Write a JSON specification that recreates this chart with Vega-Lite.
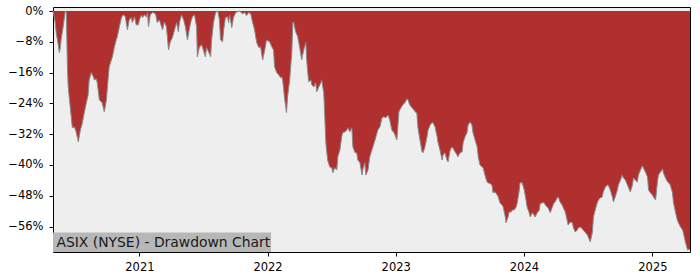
{
  "$schema": "https://vega.github.io/schema/vega-lite/v6.json",
  "width": 637,
  "height": 245,
  "autosize": {"type": "none"},
  "padding": {"left": 53, "top": 7, "right": 10, "bottom": 28},
  "background": "white",
  "config": {
    "font": "DejaVu Sans",
    "view": {"stroke": "black", "strokeWidth": 1, "fill": "#eeeeee"},
    "axis": {
      "title": null,
      "grid": false,
      "domain": false,
      "ticks": true,
      "tickColor": "black",
      "tickSize": 4,
      "labelFontSize": 11.5,
      "labelColor": "black",
      "labelFont": "DejaVu Sans",
      "labelOverlap": false,
      "labelFlush": false
    },
    "axisX": {"labelPadding": 5},
    "axisY": {"labelPadding": 6}
  },
  "datasets": {
    "dd": [
      {"date":"2020-04-30","dd":0},
      {"date":"2020-05-06","dd":-0.028},
      {"date":"2020-05-09","dd":-0.056},
      {"date":"2020-05-15","dd":-0.088},
      {"date":"2020-05-18","dd":-0.108},
      {"date":"2020-05-21","dd":-0.095},
      {"date":"2020-05-23","dd":-0.075},
      {"date":"2020-05-29","dd":-0.041},
      {"date":"2020-06-04","dd":0},
      {"date":"2020-06-07","dd":-0.004},
      {"date":"2020-06-10","dd":-0.145},
      {"date":"2020-06-12","dd":-0.192},
      {"date":"2020-06-15","dd":-0.223},
      {"date":"2020-06-21","dd":-0.275},
      {"date":"2020-06-24","dd":-0.303},
      {"date":"2020-06-30","dd":-0.301},
      {"date":"2020-07-05","dd":-0.314},
      {"date":"2020-07-11","dd":-0.340},
      {"date":"2020-07-17","dd":-0.309},
      {"date":"2020-07-22","dd":-0.293},
      {"date":"2020-07-28","dd":-0.264},
      {"date":"2020-08-03","dd":-0.238},
      {"date":"2020-08-08","dd":-0.218},
      {"date":"2020-08-11","dd":-0.179},
      {"date":"2020-08-17","dd":-0.160},
      {"date":"2020-08-23","dd":-0.171},
      {"date":"2020-08-26","dd":-0.179},
      {"date":"2020-08-31","dd":-0.176},
      {"date":"2020-09-03","dd":-0.186},
      {"date":"2020-09-09","dd":-0.231},
      {"date":"2020-09-17","dd":-0.238},
      {"date":"2020-09-23","dd":-0.262},
      {"date":"2020-09-29","dd":-0.231},
      {"date":"2020-10-02","dd":-0.197},
      {"date":"2020-10-07","dd":-0.145},
      {"date":"2020-10-16","dd":-0.119},
      {"date":"2020-10-22","dd":-0.093},
      {"date":"2020-10-27","dd":-0.075},
      {"date":"2020-10-30","dd":-0.067},
      {"date":"2020-11-05","dd":-0.041},
      {"date":"2020-11-11","dd":-0.017},
      {"date":"2020-11-16","dd":-0.010},
      {"date":"2020-11-22","dd":-0.015},
      {"date":"2020-11-28","dd":-0.049},
      {"date":"2020-12-03","dd":-0.023},
      {"date":"2020-12-09","dd":-0.017},
      {"date":"2020-12-12","dd":-0.030},
      {"date":"2020-12-18","dd":-0.015},
      {"date":"2020-12-23","dd":-0.036},
      {"date":"2020-12-29","dd":-0.036},
      {"date":"2021-01-01","dd":-0.023},
      {"date":"2021-01-07","dd":-0.010},
      {"date":"2021-01-10","dd":-0.017},
      {"date":"2021-01-15","dd":-0.010},
      {"date":"2021-01-21","dd":-0.015},
      {"date":"2021-01-24","dd":-0.004},
      {"date":"2021-01-27","dd":-0.041},
      {"date":"2021-02-01","dd":-0.010},
      {"date":"2021-02-07","dd":-0.004},
      {"date":"2021-02-16","dd":-0.007},
      {"date":"2021-02-21","dd":-0.030},
      {"date":"2021-02-27","dd":-0.023},
      {"date":"2021-03-08","dd":-0.049},
      {"date":"2021-03-13","dd":-0.028},
      {"date":"2021-03-19","dd":-0.041},
      {"date":"2021-03-25","dd":-0.101},
      {"date":"2021-03-30","dd":-0.080},
      {"date":"2021-04-05","dd":-0.069},
      {"date":"2021-04-11","dd":-0.049},
      {"date":"2021-04-17","dd":-0.030},
      {"date":"2021-04-22","dd":-0.054},
      {"date":"2021-04-25","dd":-0.030},
      {"date":"2021-05-01","dd":-0.010},
      {"date":"2021-05-07","dd":-0.023},
      {"date":"2021-05-12","dd":-0.041},
      {"date":"2021-05-18","dd":-0.075},
      {"date":"2021-05-24","dd":-0.043},
      {"date":"2021-05-29","dd":-0.023},
      {"date":"2021-06-01","dd":-0.015},
      {"date":"2021-06-07","dd":-0.010},
      {"date":"2021-06-13","dd":-0.041},
      {"date":"2021-06-15","dd":-0.119},
      {"date":"2021-06-21","dd":-0.093},
      {"date":"2021-06-27","dd":-0.088},
      {"date":"2021-06-30","dd":-0.095},
      {"date":"2021-07-08","dd":-0.119},
      {"date":"2021-07-11","dd":-0.095},
      {"date":"2021-07-17","dd":-0.106},
      {"date":"2021-07-23","dd":-0.119},
      {"date":"2021-07-25","dd":-0.082},
      {"date":"2021-07-31","dd":-0.030},
      {"date":"2021-08-06","dd":-0.004},
      {"date":"2021-08-12","dd":0},
      {"date":"2021-08-17","dd":-0.023},
      {"date":"2021-08-20","dd":-0.075},
      {"date":"2021-08-26","dd":-0.080},
      {"date":"2021-08-29","dd":-0.049},
      {"date":"2021-09-03","dd":-0.017},
      {"date":"2021-09-09","dd":-0.015},
      {"date":"2021-09-12","dd":-0.030},
      {"date":"2021-09-15","dd":-0.010},
      {"date":"2021-09-21","dd":-0.043},
      {"date":"2021-09-26","dd":-0.017},
      {"date":"2021-10-02","dd":-0.004},
      {"date":"2021-10-13","dd":0},
      {"date":"2021-10-22","dd":-0.007},
      {"date":"2021-10-28","dd":-0.004},
      {"date":"2021-11-02","dd":-0.012},
      {"date":"2021-11-08","dd":-0.004},
      {"date":"2021-11-14","dd":-0.007},
      {"date":"2021-11-19","dd":-0.028},
      {"date":"2021-11-25","dd":-0.049},
      {"date":"2021-12-01","dd":-0.082},
      {"date":"2021-12-07","dd":-0.095},
      {"date":"2021-12-12","dd":-0.093},
      {"date":"2021-12-18","dd":-0.127},
      {"date":"2021-12-24","dd":-0.101},
      {"date":"2021-12-29","dd":-0.075},
      {"date":"2022-01-07","dd":-0.080},
      {"date":"2022-01-13","dd":-0.093},
      {"date":"2022-01-18","dd":-0.101},
      {"date":"2022-01-21","dd":-0.145},
      {"date":"2022-01-27","dd":-0.160},
      {"date":"2022-02-02","dd":-0.166},
      {"date":"2022-02-07","dd":-0.173},
      {"date":"2022-02-10","dd":-0.171},
      {"date":"2022-02-13","dd":-0.179},
      {"date":"2022-02-19","dd":-0.231},
      {"date":"2022-02-24","dd":-0.264},
      {"date":"2022-02-27","dd":-0.223},
      {"date":"2022-03-05","dd":-0.179},
      {"date":"2022-03-11","dd":-0.108},
      {"date":"2022-03-14","dd":-0.030},
      {"date":"2022-03-16","dd":-0.028},
      {"date":"2022-03-22","dd":-0.054},
      {"date":"2022-03-28","dd":-0.067},
      {"date":"2022-03-31","dd":-0.082},
      {"date":"2022-04-05","dd":-0.108},
      {"date":"2022-04-08","dd":-0.127},
      {"date":"2022-04-14","dd":-0.101},
      {"date":"2022-04-20","dd":-0.082},
      {"date":"2022-04-23","dd":-0.134},
      {"date":"2022-04-28","dd":-0.184},
      {"date":"2022-05-04","dd":-0.179},
      {"date":"2022-05-07","dd":-0.192},
      {"date":"2022-05-13","dd":-0.197},
      {"date":"2022-05-18","dd":-0.186},
      {"date":"2022-05-21","dd":-0.210},
      {"date":"2022-05-27","dd":-0.197},
      {"date":"2022-06-02","dd":-0.186},
      {"date":"2022-06-04","dd":-0.179},
      {"date":"2022-06-10","dd":-0.212},
      {"date":"2022-06-13","dd":-0.275},
      {"date":"2022-06-16","dd":-0.342},
      {"date":"2022-06-21","dd":-0.387},
      {"date":"2022-06-27","dd":-0.405},
      {"date":"2022-07-03","dd":-0.407},
      {"date":"2022-07-06","dd":-0.420},
      {"date":"2022-07-11","dd":-0.407},
      {"date":"2022-07-17","dd":-0.413},
      {"date":"2022-07-20","dd":-0.379},
      {"date":"2022-07-26","dd":-0.361},
      {"date":"2022-07-31","dd":-0.327},
      {"date":"2022-08-03","dd":-0.316},
      {"date":"2022-08-09","dd":-0.314},
      {"date":"2022-08-15","dd":-0.309},
      {"date":"2022-08-18","dd":-0.303},
      {"date":"2022-08-23","dd":-0.314},
      {"date":"2022-08-29","dd":-0.303},
      {"date":"2022-09-01","dd":-0.353},
      {"date":"2022-09-07","dd":-0.368},
      {"date":"2022-09-12","dd":-0.368},
      {"date":"2022-09-15","dd":-0.387},
      {"date":"2022-09-21","dd":-0.394},
      {"date":"2022-09-27","dd":-0.426},
      {"date":"2022-09-29","dd":-0.413},
      {"date":"2022-10-05","dd":-0.394},
      {"date":"2022-10-08","dd":-0.426},
      {"date":"2022-10-14","dd":-0.413},
      {"date":"2022-10-19","dd":-0.379},
      {"date":"2022-10-25","dd":-0.361},
      {"date":"2022-10-28","dd":-0.353},
      {"date":"2022-11-03","dd":-0.335},
      {"date":"2022-11-11","dd":-0.309},
      {"date":"2022-11-17","dd":-0.301},
      {"date":"2022-11-23","dd":-0.277},
      {"date":"2022-11-28","dd":-0.275},
      {"date":"2022-12-04","dd":-0.277},
      {"date":"2022-12-10","dd":-0.270},
      {"date":"2022-12-15","dd":-0.283},
      {"date":"2022-12-21","dd":-0.309},
      {"date":"2022-12-27","dd":-0.316},
      {"date":"2022-12-30","dd":-0.322},
      {"date":"2023-01-04","dd":-0.335},
      {"date":"2023-01-07","dd":-0.301},
      {"date":"2023-01-10","dd":-0.262},
      {"date":"2023-01-16","dd":-0.251},
      {"date":"2023-01-21","dd":-0.244},
      {"date":"2023-01-27","dd":-0.238},
      {"date":"2023-02-02","dd":-0.228},
      {"date":"2023-02-05","dd":-0.231},
      {"date":"2023-02-10","dd":-0.244},
      {"date":"2023-02-16","dd":-0.251},
      {"date":"2023-02-22","dd":-0.257},
      {"date":"2023-02-25","dd":-0.262},
      {"date":"2023-03-02","dd":-0.264},
      {"date":"2023-03-05","dd":-0.301},
      {"date":"2023-03-11","dd":-0.335},
      {"date":"2023-03-17","dd":-0.366},
      {"date":"2023-03-20","dd":-0.368},
      {"date":"2023-03-25","dd":-0.353},
      {"date":"2023-03-31","dd":-0.327},
      {"date":"2023-04-03","dd":-0.309},
      {"date":"2023-04-09","dd":-0.296},
      {"date":"2023-04-14","dd":-0.290},
      {"date":"2023-04-17","dd":-0.290},
      {"date":"2023-04-23","dd":-0.301},
      {"date":"2023-04-29","dd":-0.327},
      {"date":"2023-05-01","dd":-0.340},
      {"date":"2023-05-07","dd":-0.361},
      {"date":"2023-05-13","dd":-0.387},
      {"date":"2023-05-16","dd":-0.374},
      {"date":"2023-05-21","dd":-0.368},
      {"date":"2023-05-27","dd":-0.387},
      {"date":"2023-05-30","dd":-0.392},
      {"date":"2023-06-05","dd":-0.361},
      {"date":"2023-06-10","dd":-0.353},
      {"date":"2023-06-13","dd":-0.356},
      {"date":"2023-06-19","dd":-0.366},
      {"date":"2023-06-25","dd":-0.374},
      {"date":"2023-06-27","dd":-0.379},
      {"date":"2023-07-03","dd":-0.368},
      {"date":"2023-07-09","dd":-0.366},
      {"date":"2023-07-12","dd":-0.342},
      {"date":"2023-07-17","dd":-0.327},
      {"date":"2023-07-23","dd":-0.316},
      {"date":"2023-07-26","dd":-0.296},
      {"date":"2023-08-01","dd":-0.288},
      {"date":"2023-08-06","dd":-0.296},
      {"date":"2023-08-09","dd":-0.316},
      {"date":"2023-08-15","dd":-0.335},
      {"date":"2023-08-21","dd":-0.353},
      {"date":"2023-08-24","dd":-0.379},
      {"date":"2023-08-29","dd":-0.400},
      {"date":"2023-09-04","dd":-0.405},
      {"date":"2023-09-07","dd":-0.407},
      {"date":"2023-09-12","dd":-0.426},
      {"date":"2023-09-18","dd":-0.444},
      {"date":"2023-09-21","dd":-0.446},
      {"date":"2023-09-27","dd":-0.449},
      {"date":"2023-10-02","dd":-0.452},
      {"date":"2023-10-05","dd":-0.472},
      {"date":"2023-10-11","dd":-0.470},
      {"date":"2023-10-17","dd":-0.478},
      {"date":"2023-10-20","dd":-0.483},
      {"date":"2023-10-25","dd":-0.499},
      {"date":"2023-10-31","dd":-0.504},
      {"date":"2023-11-03","dd":-0.509},
      {"date":"2023-11-09","dd":-0.535},
      {"date":"2023-11-11","dd":-0.550},
      {"date":"2023-11-17","dd":-0.535},
      {"date":"2023-11-20","dd":-0.522},
      {"date":"2023-11-26","dd":-0.522},
      {"date":"2023-11-28","dd":-0.517},
      {"date":"2023-12-04","dd":-0.517},
      {"date":"2023-12-10","dd":-0.509},
      {"date":"2023-12-13","dd":-0.498},
      {"date":"2023-12-18","dd":-0.470},
      {"date":"2023-12-21","dd":-0.446},
      {"date":"2023-12-27","dd":-0.446},
      {"date":"2024-01-02","dd":-0.465},
      {"date":"2024-01-07","dd":-0.491},
      {"date":"2024-01-10","dd":-0.509},
      {"date":"2024-01-16","dd":-0.524},
      {"date":"2024-01-19","dd":-0.535},
      {"date":"2024-01-25","dd":-0.524},
      {"date":"2024-01-30","dd":-0.530},
      {"date":"2024-02-02","dd":-0.535},
      {"date":"2024-02-08","dd":-0.524},
      {"date":"2024-02-14","dd":-0.517},
      {"date":"2024-02-16","dd":-0.501},
      {"date":"2024-02-22","dd":-0.498},
      {"date":"2024-02-28","dd":-0.498},
      {"date":"2024-03-02","dd":-0.504},
      {"date":"2024-03-07","dd":-0.509},
      {"date":"2024-03-10","dd":-0.511},
      {"date":"2024-03-16","dd":-0.524},
      {"date":"2024-03-22","dd":-0.509},
      {"date":"2024-03-27","dd":-0.498},
      {"date":"2024-03-30","dd":-0.496},
      {"date":"2024-04-05","dd":-0.485},
      {"date":"2024-04-08","dd":-0.483},
      {"date":"2024-04-13","dd":-0.496},
      {"date":"2024-04-19","dd":-0.504},
      {"date":"2024-04-22","dd":-0.511},
      {"date":"2024-04-28","dd":-0.522},
      {"date":"2024-05-03","dd":-0.543},
      {"date":"2024-05-06","dd":-0.556},
      {"date":"2024-05-12","dd":-0.548},
      {"date":"2024-05-18","dd":-0.550},
      {"date":"2024-05-21","dd":-0.563},
      {"date":"2024-05-26","dd":-0.574},
      {"date":"2024-06-01","dd":-0.569},
      {"date":"2024-06-04","dd":-0.563},
      {"date":"2024-06-10","dd":-0.561},
      {"date":"2024-06-18","dd":-0.569},
      {"date":"2024-06-30","dd":-0.582},
      {"date":"2024-07-08","dd":-0.600},
      {"date":"2024-07-14","dd":-0.574},
      {"date":"2024-07-17","dd":-0.535},
      {"date":"2024-07-22","dd":-0.517},
      {"date":"2024-07-28","dd":-0.498},
      {"date":"2024-07-31","dd":-0.491},
      {"date":"2024-08-06","dd":-0.485},
      {"date":"2024-08-11","dd":-0.483},
      {"date":"2024-08-14","dd":-0.470},
      {"date":"2024-08-20","dd":-0.457},
      {"date":"2024-08-26","dd":-0.452},
      {"date":"2024-08-28","dd":-0.452},
      {"date":"2024-09-03","dd":-0.465},
      {"date":"2024-09-09","dd":-0.483},
      {"date":"2024-09-12","dd":-0.496},
      {"date":"2024-09-17","dd":-0.483},
      {"date":"2024-09-23","dd":-0.465},
      {"date":"2024-09-26","dd":-0.452},
      {"date":"2024-10-02","dd":-0.439},
      {"date":"2024-10-07","dd":-0.426},
      {"date":"2024-10-10","dd":-0.433},
      {"date":"2024-10-16","dd":-0.439},
      {"date":"2024-10-22","dd":-0.452},
      {"date":"2024-10-25","dd":-0.459},
      {"date":"2024-10-30","dd":-0.470},
      {"date":"2024-11-05","dd":-0.452},
      {"date":"2024-11-08","dd":-0.433},
      {"date":"2024-11-13","dd":-0.439},
      {"date":"2024-11-19","dd":-0.444},
      {"date":"2024-11-22","dd":-0.426},
      {"date":"2024-11-28","dd":-0.413},
      {"date":"2024-12-03","dd":-0.402},
      {"date":"2024-12-06","dd":-0.407},
      {"date":"2024-12-12","dd":-0.418},
      {"date":"2024-12-18","dd":-0.431},
      {"date":"2024-12-21","dd":-0.465},
      {"date":"2024-12-26","dd":-0.472},
      {"date":"2025-01-01","dd":-0.478},
      {"date":"2025-01-04","dd":-0.483},
      {"date":"2025-01-10","dd":-0.491},
      {"date":"2025-01-15","dd":-0.446},
      {"date":"2025-01-18","dd":-0.426},
      {"date":"2025-01-24","dd":-0.418},
      {"date":"2025-01-30","dd":-0.410},
      {"date":"2025-02-01","dd":-0.420},
      {"date":"2025-02-07","dd":-0.433},
      {"date":"2025-02-13","dd":-0.444},
      {"date":"2025-02-16","dd":-0.446},
      {"date":"2025-02-21","dd":-0.452},
      {"date":"2025-02-27","dd":-0.472},
      {"date":"2025-03-02","dd":-0.498},
      {"date":"2025-03-08","dd":-0.524},
      {"date":"2025-03-13","dd":-0.543},
      {"date":"2025-03-16","dd":-0.550},
      {"date":"2025-03-22","dd":-0.561},
      {"date":"2025-03-28","dd":-0.569},
      {"date":"2025-03-30","dd":-0.576},
      {"date":"2025-04-05","dd":-0.600},
      {"date":"2025-04-11","dd":-0.621},
      {"date":"2025-04-18","dd":-0.618}
    ],
    "note": [{"label": "ASIX (NYSE) - Drawdown Chart"}]
  },
  "layer": [
    {
      "data": {"name": "dd"},
      "mark": {"type": "area", "color": "#b03030", "opacity": 1},
      "encoding": {
        "x": {
          "field": "date",
          "type": "temporal",
          "scale": {"domain": [{"year": 2020, "month": 4, "date": 30}, {"year": 2025, "month": 4, "date": 18}]},
          "axis": {"format": "%Y", "tickCount": {"interval": "year", "step": 1}, "labelOverlap": false}
        },
        "y": {
          "field": "dd",
          "type": "quantitative",
          "scale": {"domain": [-0.626, 0.0104], "nice": false, "zero": false},
          "axis": {"values": [0, -0.08, -0.16, -0.24, -0.32, -0.40, -0.48, -0.56], "format": ".0%", "labelOverlap": false}
        },
        "y2": {"datum": 0}
      }
    },
    {
      "data": {"name": "dd"},
      "mark": {"type": "line", "color": "#8a8a8a", "strokeWidth": 1},
      "encoding": {
        "x": {"field": "date", "type": "temporal", "axis": {"format": "%Y", "tickCount": {"interval": "year", "step": 1}, "labelOverlap": false}},
        "y": {"field": "dd", "type": "quantitative", "axis": {"values": [0, -0.08, -0.16, -0.24, -0.32, -0.40, -0.48, -0.56], "format": ".0%", "labelOverlap": false}}
      }
    },
    {
      "data": {"name": "note"},
      "mark": {"type": "rect", "color": "#b7b7b7", "opacity": 1},
      "encoding": {
        "x": {"datum": {"year": 2020, "month": 4, "date": 30}, "type": "temporal", "axis": {"format": "%Y", "tickCount": {"interval": "year", "step": 1}, "labelOverlap": false}},
        "x2": {"datum": {"year": 2022, "month": 1, "date": 11}},
        "y": {"datum": -0.626, "type": "quantitative", "axis": {"values": [0, -0.08, -0.16, -0.24, -0.32, -0.40, -0.48, -0.56], "format": ".0%", "labelOverlap": false}},
        "y2": {"datum": -0.5756}
      }
    },
    {
      "data": {"name": "note"},
      "mark": {"type": "text", "align": "left", "baseline": "alphabetic", "fontSize": 13.9, "color": "#1a1a1a", "dx": 3.4},
      "encoding": {
        "x": {"datum": {"year": 2020, "month": 4, "date": 30}, "type": "temporal", "axis": {"format": "%Y", "tickCount": {"interval": "year", "step": 1}, "labelOverlap": false}},
        "y": {"datum": -0.612, "type": "quantitative", "axis": {"values": [0, -0.08, -0.16, -0.24, -0.32, -0.40, -0.48, -0.56], "format": ".0%", "labelOverlap": false}},
        "text": {"field": "label"}
      }
    }
  ]
}
